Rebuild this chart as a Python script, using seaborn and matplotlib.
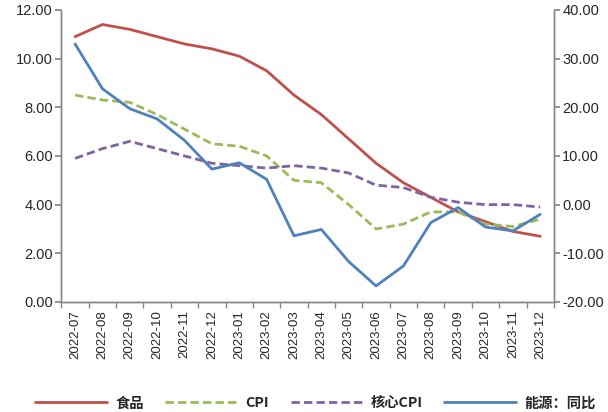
import matplotlib

matplotlib.use("Agg")
import matplotlib.pyplot as plt
import pandas as pd
import seaborn as sns
from matplotlib.lines import Line2D
from matplotlib.ticker import FixedLocator, FormatStrFormatter

months = [
    "2022-07", "2022-08", "2022-09", "2022-10", "2022-11", "2022-12",
    "2023-01", "2023-02", "2023-03", "2023-04", "2023-05", "2023-06",
    "2023-07", "2023-08", "2023-09", "2023-10", "2023-11", "2023-12",
]
food = [10.9, 11.4, 11.2, 10.9, 10.6, 10.4, 10.1, 9.5, 8.5, 7.7, 6.7, 5.7,
        4.9, 4.3, 3.7, 3.3, 2.9, 2.7]
cpi = [8.5, 8.3, 8.2, 7.7, 7.1, 6.5, 6.4, 6.0, 5.0, 4.9, 4.0, 3.0,
       3.2, 3.7, 3.7, 3.2, 3.1, 3.4]
core_cpi = [5.9, 6.3, 6.6, 6.3, 6.0, 5.7, 5.6, 5.5, 5.6, 5.5, 5.3, 4.8,
            4.7, 4.3, 4.1, 4.0, 4.0, 3.9]
energy = [33.0, 23.8, 19.7, 17.6, 13.2, 7.3, 8.6, 5.2, -6.4, -5.1, -11.7, -16.7,
          -12.6, -3.7, -0.6, -4.6, -5.4, -2.0]

labels = ["食品", "CPI", "核心CPI", "能源：同比"]
colors = ["#C0504D", "#9BBB59", "#8064A2", "#4F81BD"]

sns.set_theme(style="white")
plt.rcParams["font.family"] = ["Liberation Sans", "Noto Sans CJK SC", "DejaVu Sans"]

df = pd.DataFrame({"pos": range(len(months)), "month": months,
                   "food": food, "cpi": cpi, "core": core_cpi, "energy": energy})

fig = plt.figure(figsize=(6.08, 4.12), dpi=100)
ax = fig.add_axes([0.101, 0.267, 0.810, 0.709])
ax2 = ax.twinx()

sns.lineplot(data=df, x="pos", y="food", color=colors[0], lw=2, ax=ax)
sns.lineplot(data=df, x="pos", y="cpi", color=colors[1], lw=2, ax=ax)
ax.lines[-1].set_dashes([3, 1.5])
sns.lineplot(data=df, x="pos", y="core", color=colors[2], lw=2, ax=ax)
ax.lines[-1].set_dashes([3, 1.5])
sns.lineplot(data=df, x="pos", y="energy", color=colors[3], lw=2, ax=ax2)

ax.set_xlim(-0.5, len(months) - 0.5)
ax.set_ylim(0, 12)
ax2.set_ylim(-20, 40)
ax.set_yticks([0, 2, 4, 6, 8, 10, 12])
ax2.set_yticks([-20, -10, 0, 10, 20, 30, 40])
ax.yaxis.set_major_formatter(FormatStrFormatter("%.2f"))
ax2.yaxis.set_major_formatter(FormatStrFormatter("%.2f"))

ax.set_xticks(range(len(months)))
ax.set_xticklabels(months, rotation=90, fontsize=9.5)
ax.xaxis.set_minor_locator(FixedLocator([i - 0.5 for i in range(len(months) + 1)]))
ax.tick_params(axis="x", which="major", length=0, pad=6)
ax.tick_params(axis="x", which="minor", length=4, color="#868686", direction="out")
ax.tick_params(axis="y", length=4, color="#868686", direction="out", labelsize=10.5, pad=2)
ax2.tick_params(axis="y", length=4, color="#868686", direction="out", labelsize=10.5, pad=2)
ax.xaxis.tick_bottom()

ax.set_xlabel("")
ax.set_ylabel("")
ax2.set_ylabel("")
for a in (ax, ax2):
    a.spines["top"].set_visible(False)
    for s in ("left", "right", "bottom"):
        a.spines[s].set_color("#868686")
        a.spines[s].set_linewidth(1)
    a.grid(False)

handles = [
    Line2D([], [], color=colors[0], lw=2),
    Line2D([], [], color=colors[1], lw=2, dashes=[3, 1.5]),
    Line2D([], [], color=colors[2], lw=2, dashes=[3, 1.5]),
    Line2D([], [], color=colors[3], lw=2),
]
fig.legend(handles, labels, loc="lower center", bbox_to_anchor=(0.519, -0.01), ncol=4,
           frameon=False, handlelength=5.0, columnspacing=1.5, handletextpad=0.6,
           borderaxespad=0.0,
           prop={"family": ["Noto Sans CJK SC", "DejaVu Sans"], "weight": "bold", "size": 10.3})

fig.savefig("out.png", dpi=100)
